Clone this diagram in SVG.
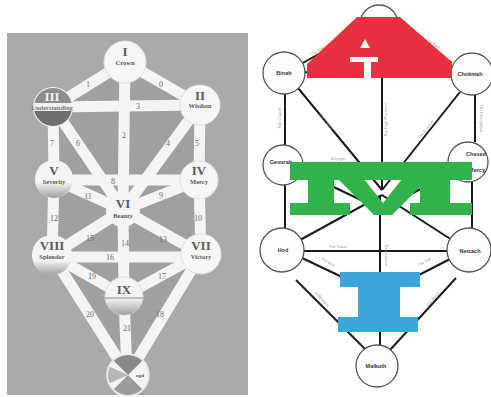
<svg xmlns="http://www.w3.org/2000/svg" width="491" height="397" viewBox="0 0 491 397">
<defs>
<style>
.path{stroke:#f4f4f4;stroke-width:11;stroke-linecap:butt;fill:none}
.pn{font-family:"Liberation Serif",serif;font-size:8px;fill:#6a6a6a;text-anchor:middle}
.num{font-family:"Liberation Serif",serif;font-size:13px;font-weight:bold;fill:#5a5a5a;text-anchor:middle}
.nm{font-family:"Liberation Serif",serif;font-size:6.5px;font-weight:bold;fill:#5a5a5a;text-anchor:middle}
.sph{fill:#f6f6f6;stroke:#e0e0e0;stroke-width:1}
.ln{stroke:#1a1a1a;stroke-width:2;fill:none}
.rc{fill:#fdfdfd;stroke:#555;stroke-width:1.3}
.rl{font-family:"Liberation Sans",sans-serif;font-size:5.5px;font-weight:bold;fill:#333;text-anchor:middle}
.pl{font-family:"Liberation Sans",sans-serif;font-size:4px;fill:#999;text-anchor:middle}
</style>
<linearGradient id="shade" x1="0" y1="0" x2="0" y2="1">
<stop offset="0" stop-color="#f0f0f0"/><stop offset="1" stop-color="#9a9a9a"/>
</linearGradient>
<clipPath id="cIII"><circle cx="53" cy="107" r="19"/></clipPath>
<clipPath id="cV"><circle cx="54" cy="179" r="19"/></clipPath>
<clipPath id="cVIII"><circle cx="52" cy="255" r="20"/></clipPath>
<clipPath id="cVII"><circle cx="201" cy="254" r="20"/></clipPath>
<clipPath id="cIX"><circle cx="124" cy="296" r="19"/></clipPath>
<clipPath id="cX"><circle cx="128" cy="375" r="20"/></clipPath>
</defs>

<!-- LEFT PANEL -->
<rect x="7" y="33" width="241" height="362" fill="#a9a9a9"/>
<polygon points="53,107 125,62 200,105 199,180 201,254 128,375 52,255 54,179" fill="#a0a0a0"/>

<g id="left-connectors">
<line class="path" x1="125" y1="62" x2="53" y2="107"/>
<line class="path" x1="125" y1="62" x2="200" y2="105"/>
<line class="path" x1="125" y1="62" x2="123" y2="210"/>
<line class="path" x1="53" y1="107" x2="200" y2="105"/>
<line class="path" x1="53" y1="107" x2="54" y2="179"/>
<line class="path" x1="53" y1="107" x2="123" y2="210"/>
<line class="path" x1="200" y1="105" x2="123" y2="210"/>
<line class="path" x1="200" y1="105" x2="199" y2="180"/>
<line class="path" x1="54" y1="180" x2="199" y2="180"/>
<line class="path" x1="54" y1="179" x2="123" y2="210"/>
<line class="path" x1="199" y1="180" x2="123" y2="210"/>
<line class="path" x1="54" y1="179" x2="52" y2="255"/>
<line class="path" x1="199" y1="180" x2="201" y2="254"/>
<line class="path" x1="123" y1="210" x2="52" y2="255"/>
<line class="path" x1="123" y1="210" x2="201" y2="254"/>
<line class="path" x1="123" y1="210" x2="124" y2="296"/>
<line class="path" x1="52" y1="257" x2="201" y2="257"/>
<line class="path" x1="52" y1="255" x2="124" y2="296"/>
<line class="path" x1="201" y1="254" x2="124" y2="296"/>
<line class="path" x1="52" y1="255" x2="128" y2="375"/>
<line class="path" x1="201" y1="254" x2="128" y2="375"/>
<line class="path" x1="124" y1="296" x2="127" y2="375"/>
<text class="pn" x="88" y="87">1</text>
<text class="pn" x="161" y="87">0</text>
<text class="pn" x="138" y="109">3</text>
<text class="pn" x="124" y="138">2</text>
<text class="pn" x="52" y="146">7</text>
<text class="pn" x="78" y="146">6</text>
<text class="pn" x="168" y="146">4</text>
<text class="pn" x="197" y="146">5</text>
<text class="pn" x="113" y="184">8</text>
<text class="pn" x="88" y="199">11</text>
<text class="pn" x="161" y="198">9</text>
<text class="pn" x="54" y="221">12</text>
<text class="pn" x="198" y="221">10</text>
<text class="pn" x="90" y="241">15</text>
<text class="pn" x="163" y="242">13</text>
<text class="pn" x="125" y="246">14</text>
<text class="pn" x="110" y="260">16</text>
<text class="pn" x="92" y="279">19</text>
<text class="pn" x="162" y="279">17</text>
<text class="pn" x="90" y="317">20</text>
<text class="pn" x="160" y="317">18</text>
<text class="pn" x="127" y="331">21</text>
</g>

<g id="node-I"><circle class="sph" cx="125" cy="62" r="21"/><text class="num" x="125" y="56">I</text><text class="nm" x="125" y="65">Crown</text></g>
<g id="node-II"><circle class="sph" cx="200" cy="105" r="20"/><text class="num" x="200" y="100">II</text><text class="nm" x="200" y="108">Wisdom</text></g>
<g id="node-III"><circle cx="53" cy="107" r="20" fill="#f2f2f2"/><g clip-path="url(#cIII)"><rect x="30" y="86" width="46" height="17" fill="#8c8c8c"/><rect x="30" y="103" width="46" height="8" fill="#efefef"/><rect x="30" y="111" width="46" height="18" fill="#6e6e6e"/></g><text class="num" x="52" y="101" style="fill:#f4f4f4">III</text><text class="nm" x="52" y="109.5" style="fill:#777">Understanding</text></g>
<g id="node-IV"><circle class="sph" cx="199" cy="180" r="19"/><text class="num" x="199" y="175">IV</text><text class="nm" x="199" y="184">Mercy</text></g>
<g id="node-V"><circle cx="54" cy="179" r="19" fill="#f4f4f4"/><g clip-path="url(#cV)"><rect x="34" y="183" width="40" height="16" fill="url(#shade)"/></g><text class="num" x="54" y="175">V</text><text class="nm" x="54" y="184">Severity</text></g>
<g id="node-VI"><circle cx="123" cy="210" r="17" fill="#f4f4f4"/><text class="num" x="123" y="208">VI</text><text class="nm" x="123" y="218">Beauty</text></g>
<g id="node-VII"><circle class="sph" cx="201" cy="254" r="20"/><text class="num" x="201" y="250">VII</text><text class="nm" x="201" y="259">Victory</text></g>
<g id="node-VIII"><circle cx="52" cy="255" r="20" fill="#f4f4f4"/><g clip-path="url(#cVIII)"><rect x="32" y="261" width="40" height="15" fill="url(#shade)"/></g><text class="num" x="52" y="250">VIII</text><text class="nm" x="52" y="259">Splendor</text></g>
<g id="node-IX"><circle cx="124" cy="296" r="19" fill="#f4f4f4" stroke="#ddd"/><g clip-path="url(#cIX)"><rect x="105" y="299" width="38" height="17" fill="url(#shade)"/></g><line x1="105" y1="298" x2="143" y2="298" stroke="#888" stroke-width="1"/><text class="num" x="124" y="294">IX</text></g>
<g id="node-X"><circle cx="128" cy="375" r="21" fill="#f4f4f4"/><g clip-path="url(#cX)"><polygon points="128,375 108,355 148,355" fill="#8a8a8a"/><polygon points="128,375 108,395 148,395" fill="#9c9c9c"/><polygon points="128,375 108,366 108,384" fill="#b5b5b5"/></g><circle cx="128" cy="375" r="21" fill="none" stroke="#e8e8e8" stroke-width="1.5"/><text class="nm" x="140" y="377" style="font-size:5px">ngd</text></g>

<!-- RIGHT PANEL -->
<rect x="250" y="0" width="241" height="397" fill="#ffffff"/>
<g id="right-connectors">
<line class="ln" x1="303" y1="63" x2="360" y2="30"/>
<line class="ln" x1="452" y1="63" x2="398" y2="30"/>
<line class="ln" x1="284" y1="72" x2="472" y2="74"/>
<line class="ln" x1="382" y1="40" x2="382" y2="190"/>
<line class="ln" x1="285" y1="93" x2="285" y2="145"/>
<line class="ln" x1="298" y1="88" x2="382" y2="190"/>
<line class="ln" x1="460" y1="92" x2="382" y2="190"/>
<line class="ln" x1="475" y1="95" x2="475" y2="142"/>
<line class="ln" x1="283" y1="163" x2="468" y2="163"/>
<line class="ln" x1="285" y1="185" x2="285" y2="228"/>
<line class="ln" x1="472" y1="182" x2="472" y2="228"/>
<line class="ln" x1="283" y1="163" x2="382" y2="210"/>
<line class="ln" x1="468" y1="163" x2="382" y2="210"/>
<line class="ln" x1="300" y1="240" x2="382" y2="195"/>
<line class="ln" x1="452" y1="240" x2="382" y2="195"/>
<line class="ln" x1="303" y1="251" x2="448" y2="251"/>
<line class="ln" x1="380" y1="195" x2="380" y2="350"/>
<line class="ln" x1="302" y1="258" x2="380" y2="295"/>
<line class="ln" x1="452" y1="258" x2="380" y2="295"/>
<line class="ln" x1="296" y1="280" x2="366" y2="350"/>
<line class="ln" x1="456" y1="278" x2="390" y2="350"/>
<text class="pl" transform="translate(322,50) rotate(-30)">The Magician</text>
<text class="pl" transform="translate(432,45) rotate(32)">The Fool</text>
<text class="pl" transform="translate(281,118) rotate(-90)">The Chariot</text>
<text class="pl" transform="translate(325,122) rotate(52)">The Lovers</text>
<text class="pl" transform="translate(387,120) rotate(-90)">The High Priestess</text>
<text class="pl" transform="translate(427,130) rotate(-52)">The Emperor</text>
<text class="pl" transform="translate(480,118) rotate(90)">The Hierophant</text>
<text class="pl" x="338" y="160">Strength</text>
<text class="pl" x="338" y="248">The Tower</text>
<text class="pl" transform="translate(385,255) rotate(90)">Temperance</text>
<text class="pl" transform="translate(327,263) rotate(28)">The Sun</text>
<text class="pl" transform="translate(425,263) rotate(-28)">The Star</text>
<text class="pl" transform="translate(321,300) rotate(50)">Judgement</text>
<text class="pl" transform="translate(434,300) rotate(-50)">The Moon</text>
</g>

<g id="node-kether"><circle class="rc" cx="379" cy="24" r="19"/></g>
<g id="node-binah"><circle class="rc" cx="284" cy="73" r="21"/><text class="rl" x="284" y="75">Binah</text></g>
<g id="node-chokmah"><circle class="rc" cx="472" cy="74" r="21"/><text class="rl" x="470" y="76">Chokmah</text></g>
<g id="node-gevurah"><circle class="rc" cx="283" cy="165" r="20"/><text class="rl" x="281" y="164">Gevurah</text></g>
<g id="node-chesed"><circle class="rc" cx="468" cy="162" r="20"/><text class="rl" x="476" y="156">Chesed</text><text class="rl" x="477" y="172">Mercy</text></g>
<g id="node-hod"><circle class="rc" cx="282" cy="250" r="22"/><text class="rl" x="283" y="252">Hod</text></g>
<g id="node-netzach"><circle class="rc" cx="469" cy="250" r="22"/><text class="rl" x="470" y="253">Netzach</text></g>
<g id="node-malkuth"><circle class="rc" cx="377" cy="366" r="21"/><text class="rl" x="376" y="368">Malkuth</text></g>

<g id="letter-A">
<path d="M357,17 H400 L452,62 V78 H307 V64 Z" fill="#e8303f"/>
<polygon points="360,48 365,39 370,48" fill="#fff"/>
<rect x="350" y="57" width="28" height="5" fill="#fff"/>
<rect x="364" y="62" width="7" height="16" fill="#fff"/>
</g>
<g id="letter-IVI" fill="#2fb34a">
<rect x="290" y="162" width="182" height="18"/>
<rect x="308" y="179" width="26" height="26"/>
<rect x="290" y="203" width="60" height="12"/>
<polygon points="338,179 364,179 383,203 402,179 428,179 392,215 374,215"/>
<rect x="420" y="179" width="30" height="26"/>
<rect x="410" y="203" width="62" height="12"/>
</g>
<g id="letter-I" fill="#3aa6dc">
<rect x="340" y="272" width="80" height="15"/>
<rect x="358" y="286" width="42" height="32"/>
<rect x="338" y="317" width="80" height="15"/>
</g>
</svg>
